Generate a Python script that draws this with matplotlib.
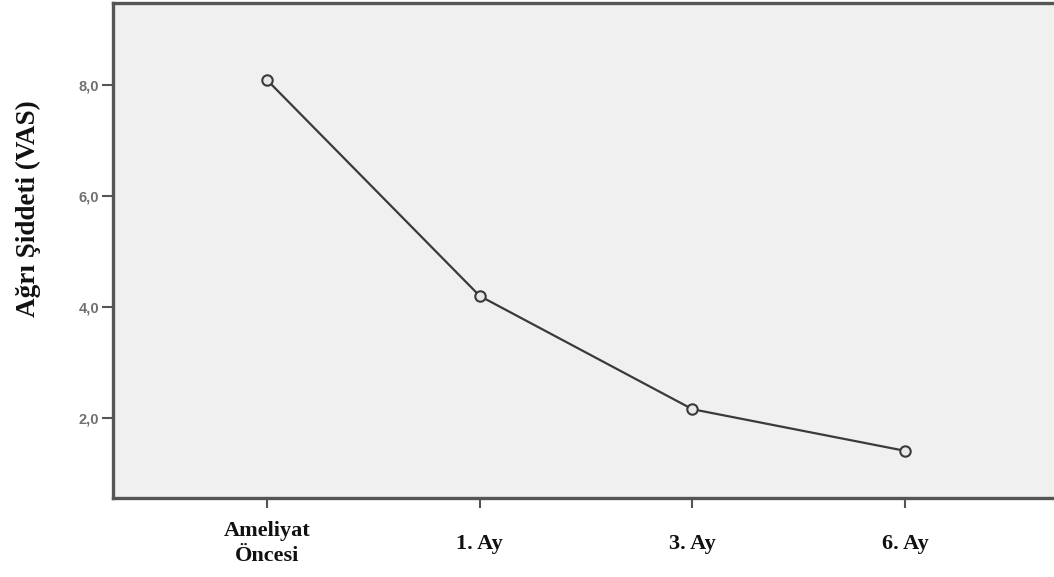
import matplotlib
matplotlib.use("Agg")
import matplotlib.pyplot as plt
from matplotlib.ticker import FuncFormatter

categories = ["Ameliyat\nÖncesi", "1. Ay", "3. Ay", "6. Ay"]
vas_values = [8.09, 4.20, 2.16, 1.41]
y_ticks = [2.0, 4.0, 6.0, 8.0]

fig = plt.figure(figsize=(10.54, 5.77), dpi=100)
ax = fig.add_axes([113/1054, 1 - 498/577, 1.0 - 113/1054 + 0.01, (498 - 3)/577])
ax.set_facecolor("#f0f0f0")

x = list(range(len(categories)))
ax.plot(x, vas_values, color="#3a3a3a", lw=1.6, marker="o", ms=7.5,
        mfc="#e8e8e8", mec="#3a3a3a", mew=1.5, zorder=3)

ax.set_xlim(-0.725, 3.75)
ax.set_ylim(0.56, 9.48)
ax.set_xticks(x)
ax.set_xticklabels(categories, fontfamily="Liberation Serif", fontweight="bold",
                   fontsize=16, color="#111111", linespacing=1.35)
for lbl in ax.get_xticklabels():
    lbl.set_va("center")
ax.set_yticks(y_ticks)
ax.yaxis.set_major_formatter(FuncFormatter(lambda v, p: f"{v:.1f}".replace(".", ",")))
for lbl in ax.get_yticklabels():
    lbl.set_fontfamily("Liberation Sans")
    lbl.set_fontweight("bold")
    lbl.set_fontsize(10.5)
    lbl.set_color("#707070")

ax.tick_params(axis="y", length=8, width=1.5, color="#555555", pad=2)
ax.tick_params(axis="x", length=7, width=1.5, color="#555555", pad=26)

for side in ["left", "bottom", "top"]:
    ax.spines[side].set_color("#555555")
    ax.spines[side].set_linewidth(2.4)
ax.spines["right"].set_visible(False)

ax.set_ylabel("Ağrı Şiddeti (VAS)", fontfamily="Liberation Serif", fontweight="bold",
              fontsize=19.5, color="#111111")
ax.yaxis.set_label_coords(-0.076, 0.585)

fig.savefig("out.png", dpi=100)
